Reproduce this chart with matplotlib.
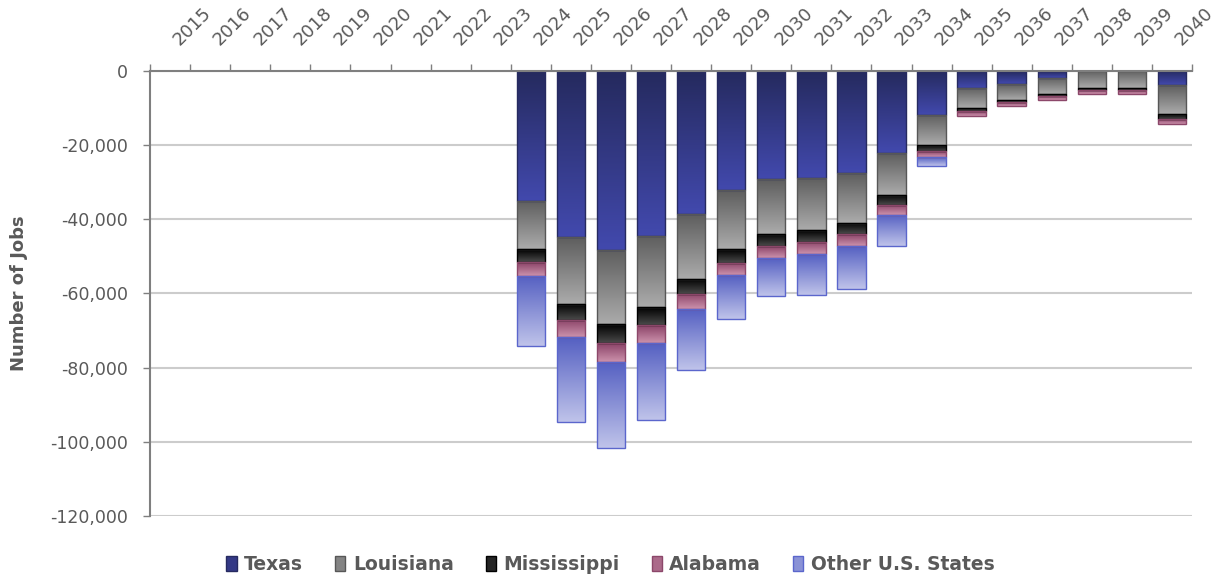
import matplotlib
matplotlib.use('Agg')
import matplotlib.pyplot as plt
import numpy as np
from matplotlib.colors import to_rgb
from matplotlib.patches import Patch
from matplotlib.ticker import FixedLocator, FuncFormatter

years = list(range(2015, 2041))
states = ['Texas', 'Louisiana', 'Mississippi', 'Alabama', 'Other U.S. States']

# change in jobs by year; 2015-2023 carry no losses
empty = [0] * 9
texas = empty + [-35000, -44800, -48200, -44500, -38500, -32200, -29100, -28800, -27600,
                 -22100, -11900, -4600, -3500, -1800, 0, 0, -3900]
louisiana = empty + [-13100, -17900, -20100, -19200, -17500, -15900, -14800, -14100, -13300,
                     -11300, -8100, -5500, -4300, -4400, -4700, -4700, -7800]
mississippi = empty + [-3400, -4400, -5100, -4800, -4200, -3600, -3300, -3200, -3100,
                       -2700, -1600, -800, -600, -500, -500, -500, -1200]
alabama = empty + [-3700, -4700, -5000, -4800, -4100, -3400, -3200, -3300, -3200,
                   -2700, -1600, -1200, -1000, -1200, -1100, -900, -1300]
other = empty + [-19000, -22900, -23200, -20700, -16300, -11800, -10200, -11000, -11500,
                 -8400, -2400, 0, 0, 0, 0, 0, 0]

series = [texas, louisiana, mississippi, alabama, other]

# (top colour, bottom colour, edge colour) for each stack segment
styles = [
    ('#252a5e', '#4249ad', '#262a60'),
    ('#5e5e5e', '#ababab', '#575757'),
    ('#000000', '#4a4a4a', '#000000'),
    ('#8a4267', '#cc92ac', '#8c476a'),
    ('#5560c2', '#bfc3ea', '#5b66cc'),
]

TEXT = '#595959'
AXIS = '#7f7f7f'


def fill_gradient(ax, bars, top, bottom):
    grad = np.linspace(to_rgb(bottom), to_rgb(top), 64)[:, None, :]
    for bar in bars:
        h = bar.get_height()
        if h == 0:
            bar.set_visible(False)
            continue
        x0, y0, w = bar.get_x(), bar.get_y(), bar.get_width()
        im = ax.imshow(grad, extent=[x0, x0 + w, min(y0, y0 + h), max(y0, y0 + h)],
                       origin='lower', aspect='auto', interpolation='bilinear', zorder=2)
        im.set_clip_path(bar)


fig = plt.figure(figsize=(12.21, 5.79), dpi=100)
ax = fig.add_axes([0.1229, 0.1088, 0.8534, 0.7686])

x = np.arange(len(years))
base = np.zeros(len(years))
for vals, (top, bottom, edge) in zip(series, styles):
    vals = np.array(vals, dtype=float)
    bars = ax.bar(x, vals, bottom=base, width=0.71, facecolor='none',
                  edgecolor=edge, linewidth=1.0, zorder=3)
    fill_gradient(ax, bars, top, bottom)
    base += vals

ax.set_xlim(-0.5, len(years) - 0.5)
ax.set_ylim(-120000, 0)

# category axis sits on top, ticks between categories, labels at centres
ax.xaxis.tick_top()
ax.xaxis.set_major_locator(FixedLocator(np.arange(len(years) + 1) - 0.5))
ax.xaxis.set_minor_locator(FixedLocator(x))
ax.xaxis.set_major_formatter(FuncFormatter(lambda v, p: ''))
ax.set_xticks(x, [str(y) for y in years], minor=True)
ax.tick_params(axis='x', which='major', direction='out', length=5, width=1, color=AXIS)
ax.tick_params(axis='x', which='minor', length=0, pad=25, labelsize=13, labelcolor=TEXT,
               top=True, bottom=False, labeltop=True, labelbottom=False)
for lab in ax.get_xticklabels(minor=True):
    lab.set_rotation(45)
    lab.set_ha('left')
    lab.set_va('top')
    lab.set_rotation_mode('anchor')

ax.set_yticks(np.arange(-120000, 1, 20000))
ax.yaxis.set_major_formatter(FuncFormatter(lambda v, p: f'{v:,.0f}'))
ax.tick_params(axis='y', direction='out', length=5, width=1, color=AXIS,
               pad=11, labelsize=12.5, labelcolor=TEXT)
ax.grid(axis='y', color='#cccccc', linewidth=1.5, zorder=0)
ax.set_axisbelow(True)

for side in ('right', 'bottom'):
    ax.spines[side].set_visible(False)
for side in ('top', 'left'):
    ax.spines[side].set_color(AXIS)
    ax.spines[side].set_linewidth(1.5)
    ax.spines[side].set_zorder(4)

ax.set_ylabel('Number of Jobs', fontsize=13, fontweight='bold', color=TEXT)
ax.yaxis.set_label_coords(-0.117, 0.5)

handles = [Patch(facecolor=np.mean([to_rgb(t), to_rgb(b)], axis=0), edgecolor=e, linewidth=1.0)
           for t, b, e in styles]
leg = fig.legend(handles, states, loc='center', bbox_to_anchor=(0.5, 0.025), ncol=5,
                 frameon=False, prop={'size': 13.5, 'weight': 'bold'},
                 handlelength=0.55, handleheight=0.85, handletextpad=0.4, columnspacing=1.7)
for t in leg.get_texts():
    t.set_color(TEXT)

fig.savefig('out.png', dpi=100)
